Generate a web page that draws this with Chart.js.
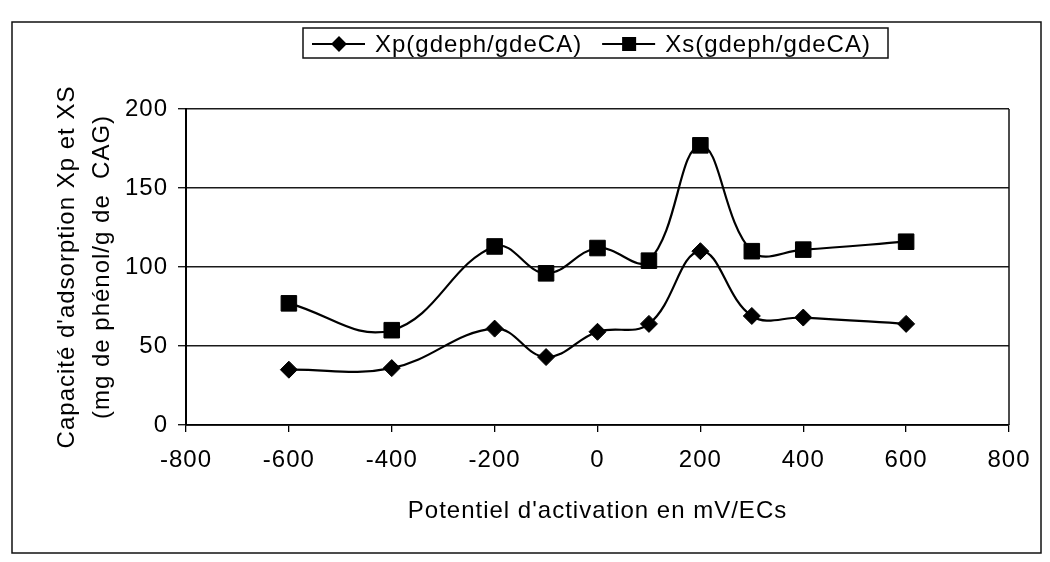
<!DOCTYPE html>
<html>
<head>
<meta charset="utf-8">
<script src="https://cdn.jsdelivr.net/npm/chart.js@4.4.1/dist/chart.umd.min.js"></script>
<style>
  html, body { margin: 0; padding: 0; background: #fff; }
  canvas { display: block; }
</style>
</head>
<body>
<canvas id="c" width="1050" height="562"></canvas>
<script>
// ---- data ----
const potentials = [-600, -400, -200, -100, 0, 100, 200, 300, 400, 600];
const xpValues   = [35, 36, 61, 43, 59, 64, 110, 69, 68, 64];
const xsValues   = [77, 60, 113, 96, 112, 104, 177, 110, 111, 116];
const seriesLabels = ['Xp(gdeph/gdeCA)', 'Xs(gdeph/gdeCA)'];
const xTitle = "Potentiel d'activation en mV/ECs";
const yTitle = ["Capacité d'adsorption Xp et XS", "(mg de phénol/g de  CAG)"];
const xMin = -800, xMax = 800, xStep = 200;
const yMin = 0, yMax = 200, yStep = 50;

const FONT = "'Liberation Sans', Arial, sans-serif";

const framePlugin = {
  id: 'frame',
  beforeUpdate(chart) { chart.ctx.letterSpacing = '1px'; },
  beforeDraw(chart) {
    const ctx = chart.ctx;
    ctx.letterSpacing = '1px';
    ctx.save();
    ctx.fillStyle = '#fff';
    ctx.fillRect(0, 0, chart.width, chart.height);
    ctx.restore();
  },
  afterDraw(chart) {
    const ctx = chart.ctx;
    const a = chart.chartArea;
    ctx.save();
    // outer frame
    ctx.strokeStyle = '#111';
    ctx.lineWidth = 1.5;
    ctx.strokeRect(12, 22, 1029, 531);
    // plot area right border
    ctx.beginPath();
    ctx.moveTo(a.right, a.top);
    ctx.lineTo(a.right, a.bottom);
    ctx.stroke();
    // legend
    ctx.font = '24px ' + FONT;
    ctx.letterSpacing = '1px';
    ctx.textBaseline = 'middle';
    const ly = 44;
    let x = 312;
    const startX = 303;
    chart.data.datasets.forEach((ds) => {
      ctx.strokeStyle = '#000';
      ctx.fillStyle = '#000';
      ctx.lineWidth = 2;
      ctx.beginPath();
      ctx.moveTo(x, ly);
      ctx.lineTo(x + 53, ly);
      ctx.stroke();
      Chart.helpers.drawPoint(ctx, {
        pointStyle: ds.pointStyle,
        radius: ds.pointStyle === 'rect' ? 8.5 : 6.5,
        rotation: 0,
        borderWidth: 1
      }, x + 27, ly);
      ctx.fillStyle = '#000';
      ctx.fillText(ds.label, x + 63, ly + 1);
      x += 63 + ctx.measureText(ds.label).width + 20;
    });
    ctx.lineWidth = 1.5;
    ctx.strokeStyle = '#111';
    ctx.strokeRect(startX, 28, 888 - startX, 30);
    ctx.restore();
  }
};

const mk = (vals) => potentials.map((p, i) => ({ x: p, y: vals[i] }));

new Chart(document.getElementById('c'), {
  type: 'line',
  data: {
    datasets: [
      {
        label: seriesLabels[0],
        data: mk(xpValues),
        borderColor: '#000',
        backgroundColor: '#000',
        borderWidth: 2.2,
        pointStyle: 'rectRot',
        pointRadius: 8.5,
        pointBorderWidth: 1,
        tension: 0.4,
        fill: false
      },
      {
        label: seriesLabels[1],
        data: mk(xsValues),
        borderColor: '#000',
        backgroundColor: '#000',
        borderWidth: 2.2,
        pointStyle: 'rect',
        pointRadius: 11,
        pointBorderWidth: 1,
        tension: 0.4,
        fill: false
      }
    ]
  },
  options: {
    responsive: false,
    animation: false,
    devicePixelRatio: 1,
    layout: { padding: { left: 20, right: 41, top: 109, bottom: 20 } },
    plugins: { legend: { display: false }, tooltip: { enabled: false } },
    scales: {
      x: {
        type: 'linear',
        min: xMin, max: xMax,
        afterFit(s) { s.height = 117; },
        ticks: { stepSize: xStep, color: '#000', font: { family: FONT, size: 24 }, padding: 14, maxRotation: 0 },
        grid: { display: true, drawOnChartArea: false, drawTicks: true, tickLength: 7, color: '#000', lineWidth: 1.3 },
        border: { display: true, color: '#000', width: 1.8 },
        title: { display: true, text: xTitle, color: '#000', font: { family: FONT, size: 24 }, padding: { top: 0, bottom: 16 } }
      },
      y: {
        min: yMin, max: yMax,
        afterFit(s) { s.width = 166; },
        ticks: { stepSize: yStep, color: '#000', font: { family: FONT, size: 24 }, padding: 10 },
        grid: { display: true, drawOnChartArea: true, drawTicks: true, tickLength: 8, color: '#1a1a1a', lineWidth: 1.4 },
        border: { display: true, color: '#000', width: 2 },
        title: { display: true, text: yTitle, color: '#000', font: { family: FONT, size: 24, lineHeight: 1.45 }, padding: { top: 30, bottom: 0 } }
      }
    }
  },
  plugins: [framePlugin]
});
</script>
</body>
</html>
